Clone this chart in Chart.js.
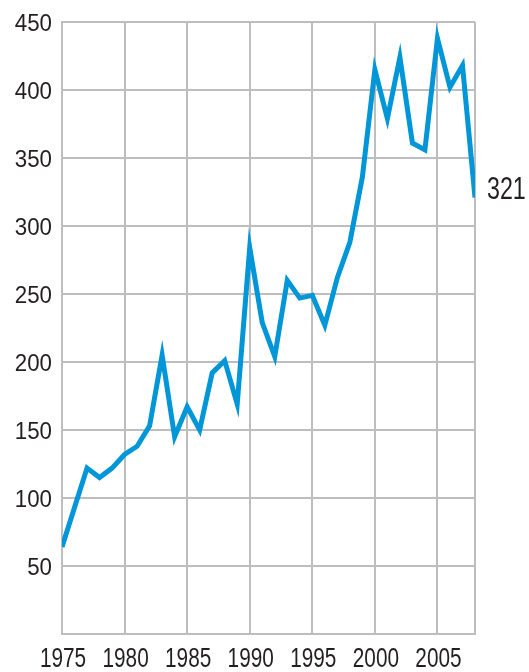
<!DOCTYPE html>
<html>
<head>
<meta charset="utf-8">
<script src="https://cdn.jsdelivr.net/npm/chart.js@4"></script>
<style>
  html, body { margin: 0; padding: 0; background: #fff; }
  #wrap { width: 529px; height: 672px; }
</style>
</head>
<body>
<div id="wrap"><canvas id="myChart" width="529" height="672"></canvas></div>
<script>
var years = [1975, 1976, 1977, 1978, 1979, 1980, 1981, 1982, 1983, 1984,
  1985, 1986, 1987, 1988, 1989, 1990, 1991, 1992, 1993, 1994,
  1995, 1996, 1997, 1998, 1999, 2000, 2001, 2002, 2003, 2004,
  2005, 2006, 2007, 2008];
var values = [64, 93, 122, 115, 122, 132, 138, 153, 205, 145,
  167, 150, 192, 201, 169, 284, 229, 204, 260, 247,
  249, 227, 262, 288, 336, 415, 379, 424, 361, 356,
  438, 402, 418, 321];
var xTicks = [1975, 1980, 1985, 1990, 1995, 2000, 2005, 2008];
var xLabels = ["1975", "1980", "1985", "1990", "1995", "2000", "2005", ""];
var yTicks = [0, 50, 100, 150, 200, 250, 300, 350, 400, 450];
var endLabel = "321";

var lineColor = "#0096d8";
var gridColor = "#bcbec0";
var textColor = "#231f20";
var fontName = "'Liberation Sans', Arial, sans-serif";

var points = [];
for (let i = 0; i < years.length; i++) {
  points.push({ x: years[i], y: values[i] });
}

// the original uses a narrow face, so squeeze the text horizontally
function narrowText(ctx, text, x, y, size, squeeze, align) {
  ctx.save();
  ctx.font = size + "px " + fontName;
  ctx.fillStyle = textColor;
  ctx.textAlign = align;
  ctx.textBaseline = "middle";
  ctx.translate(x, y);
  ctx.scale(squeeze, 1);
  ctx.fillText(text, 0, 0);
  ctx.restore();
}

var labelsPlugin = {
  id: "narrowLabels",
  afterDraw: function (chart) {
    let ctx = chart.ctx;
    let xs = chart.scales.x;
    let ys = chart.scales.y;
    for (let i = 0; i < xTicks.length; i++) {
      if (xLabels[i] == "") continue;
      narrowText(ctx, xLabels[i], xs.getPixelForValue(xTicks[i]) + 1, ys.bottom + 26, 27, 0.77, "center");
    }
    for (let i = 0; i < yTicks.length; i++) {
      if (yTicks[i] == 0) continue;
      narrowText(ctx, String(yTicks[i]), xs.left - 10, ys.getPixelForValue(yTicks[i]) + 2, 24, 0.93, "right");
    }
    let last = points[points.length - 1];
    narrowText(ctx, endLabel, xs.getPixelForValue(last.x) + 12, ys.getPixelForValue(last.y) - 7, 31, 0.75, "left");
  }
};

new Chart("myChart", {
  type: "line",
  data: {
    datasets: [{
      data: points,
      borderColor: lineColor,
      borderWidth: 5,
      pointRadius: 0,
      tension: 0,
      fill: false,
      borderJoinStyle: "miter"
    }]
  },
  options: {
    responsive: false,
    animation: false,
    layout: { padding: { left: 0, right: 54, top: 22, bottom: 0 } },
    plugins: {
      legend: { display: false },
      tooltip: { enabled: false }
    },
    scales: {
      x: {
        type: "linear",
        min: 1975,
        max: 2008,
        afterBuildTicks: function (axis) {
          axis.ticks = xTicks.map(function (v) { return { value: v }; });
        },
        afterFit: function (axis) { axis.height = 38; },
        ticks: { display: false },
        grid: { color: gridColor, lineWidth: 2, tickLength: 0, drawTicks: false },
        border: { color: gridColor, width: 2 }
      },
      y: {
        min: 0,
        max: 450,
        afterBuildTicks: function (axis) {
          axis.ticks = yTicks.map(function (v) { return { value: v }; });
        },
        afterFit: function (axis) { axis.width = 62; },
        ticks: { display: false },
        grid: { color: gridColor, lineWidth: 2, tickLength: 0, drawTicks: false },
        border: { color: gridColor, width: 2 }
      }
    }
  },
  plugins: [labelsPlugin]
});
</script>
</body>
</html>
